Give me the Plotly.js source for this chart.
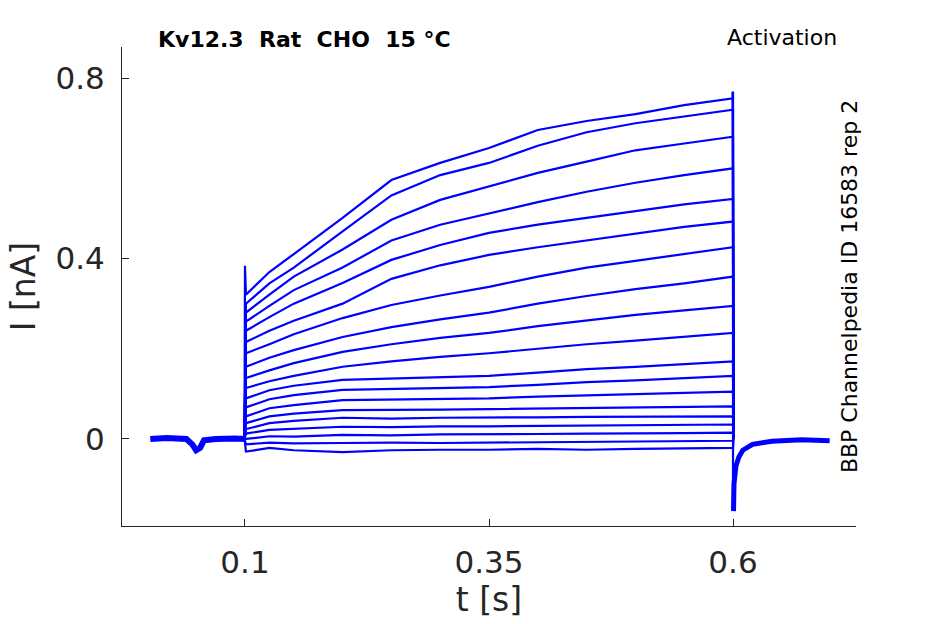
<!DOCTYPE html>
<html>
<head>
<meta charset="utf-8">
<script src="https://cdn.plot.ly/plotly-3.0.1.min.js"></script>
<style>html,body{margin:0;padding:0;background:#fff;}#plot{width:945px;height:624px;}</style>
</head>
<body>
<div id="plot"></div>
<script>
// Time points (s) of the readings during the voltage step
const stepT = [0.101, 0.125, 0.15, 0.2, 0.25, 0.3, 0.35, 0.4, 0.45, 0.5, 0.55, 0.6];

// Current readings (nA), one array per sweep, bottom to top
const sweep01 = [-0.028, -0.020, -0.025, -0.029, -0.025, -0.024, -0.024, -0.022, -0.024, -0.022, -0.021, -0.020];
const sweep02 = [-0.012, -0.008, -0.010, -0.009, -0.008, -0.009, -0.008, -0.007, -0.006, -0.006, -0.005, -0.004];
const sweep03 = [0.000, 0.006, 0.005, 0.009, 0.008, 0.010, 0.010, 0.011, 0.012, 0.012, 0.013, 0.014];
const sweep04 = [0.012, 0.020, 0.022, 0.027, 0.026, 0.028, 0.028, 0.029, 0.030, 0.031, 0.031, 0.032];
const sweep05 = [0.022, 0.035, 0.040, 0.047, 0.045, 0.047, 0.047, 0.048, 0.049, 0.049, 0.050, 0.050];
const sweep06 = [0.035, 0.050, 0.056, 0.064, 0.064, 0.065, 0.066, 0.067, 0.068, 0.070, 0.071, 0.072];
const sweep07 = [0.050, 0.068, 0.075, 0.086, 0.087, 0.089, 0.090, 0.094, 0.097, 0.100, 0.102, 0.105];
const sweep08 = [0.070, 0.088, 0.097, 0.109, 0.111, 0.113, 0.115, 0.120, 0.126, 0.130, 0.135, 0.140];
const sweep09 = [0.090, 0.108, 0.118, 0.131, 0.134, 0.137, 0.140, 0.147, 0.155, 0.160, 0.166, 0.172];
const sweep10 = [0.113, 0.128, 0.140, 0.160, 0.172, 0.182, 0.190, 0.200, 0.210, 0.218, 0.226, 0.235];
const sweep11 = [0.135, 0.152, 0.168, 0.193, 0.210, 0.224, 0.235, 0.250, 0.263, 0.275, 0.285, 0.295];
const sweep12 = [0.160, 0.180, 0.197, 0.226, 0.248, 0.265, 0.280, 0.300, 0.317, 0.332, 0.345, 0.360];
const sweep13 = [0.190, 0.210, 0.232, 0.268, 0.297, 0.318, 0.337, 0.360, 0.380, 0.395, 0.410, 0.425];
const sweep14 = [0.215, 0.240, 0.262, 0.300, 0.355, 0.385, 0.408, 0.425, 0.440, 0.455, 0.470, 0.482];
const sweep15 = [0.240, 0.270, 0.300, 0.346, 0.397, 0.430, 0.457, 0.475, 0.490, 0.505, 0.520, 0.532];
const sweep16 = [0.260, 0.295, 0.330, 0.380, 0.440, 0.475, 0.500, 0.525, 0.548, 0.568, 0.585, 0.600];
const sweep17 = [0.280, 0.320, 0.360, 0.420, 0.486, 0.530, 0.560, 0.590, 0.615, 0.640, 0.655, 0.670];
const sweep18 = [0.300, 0.345, 0.380, 0.460, 0.540, 0.585, 0.612, 0.650, 0.680, 0.700, 0.715, 0.730];
const sweep19 = [0.320, 0.370, 0.410, 0.490, 0.574, 0.612, 0.645, 0.685, 0.705, 0.720, 0.740, 0.755];

// Holding current before the step and after it
const preT = [0.003, 0.02, 0.04, 0.046, 0.05, 0.054, 0.058, 0.07, 0.09, 0.0995];
const preI = [0.000, 0.002, 0.000, -0.012, -0.025, -0.020, -0.003, 0.000, 0.001, 0.000];
const postT = [0.6005, 0.601, 0.603, 0.606, 0.61, 0.62, 0.64, 0.67, 0.699];
const postI = [-0.160, -0.100, -0.060, -0.040, -0.025, -0.012, -0.005, -0.002, -0.004];

// Capacitive spike at step onset and peak at step end (top sweep)
const onsetSpikeT = [0.1];
const onsetSpikeI = [0.384];
const endPeakT = [0.5995];
const endPeakI = [0.770];

const sweeps = [sweep01, sweep02, sweep03, sweep04, sweep05, sweep06, sweep07, sweep08, sweep09, sweep10,
                sweep11, sweep12, sweep13, sweep14, sweep15, sweep16, sweep17, sweep18, sweep19];

const blue = '#0000ff';
const traces = [];
sweeps.forEach((vals, k) => {
  const top = (k === sweeps.length - 1);
  const x = [0.0995].concat(top ? onsetSpikeT : [], stepT, top ? endPeakT : [], [0.6005]);
  const y = [0].concat(top ? onsetSpikeI : [], vals, top ? endPeakI : [], [0]);
  traces.push({x: x, y: y, type: 'scatter', mode: 'lines', line: {color: blue, width: 2.2}, hoverinfo: 'skip', showlegend: false});
});
traces.push({x: preT, y: preI, type: 'scatter', mode: 'lines', line: {color: blue, width: 6}, showlegend: false});
traces.push({x: postT, y: postI, type: 'scatter', mode: 'lines', line: {color: blue, width: 5}, showlegend: false});
traces.push({x: [0.6, 0.6], y: [endPeakI[0], postI[0]], type: 'scatter', mode: 'lines', line: {color: blue, width: 2.2}, showlegend: false});

const xTicks = [0.1, 0.35, 0.6];
const xTickText = ['0.1', '0.35', '0.6'];
const yTicks = [0, 0.4, 0.8];
const yTickText = ['0', '0.4', '0.8'];

const axisColor = '#262626';
const font = 'DejaVu Sans, sans-serif';
const nb = '\u00a0\u00a0';

const layout = {
  width: 945, height: 624,
  margin: {l: 122, r: 89, t: 47, b: 98},
  paper_bgcolor: '#fff', plot_bgcolor: '#fff',
  showlegend: false,
  font: {family: font, color: axisColor},
  xaxis: {
    range: [-0.026, 0.726], tickvals: xTicks, ticktext: xTickText,
    ticks: 'inside', ticklen: 7, tickcolor: axisColor, tickwidth: 1,
    ticklabelstandoff: 9,
    showline: true, linecolor: axisColor, linewidth: 1, showgrid: false, zeroline: false,
    tickfont: {size: 31, family: font, color: axisColor},
    title: {text: 't [s]', font: {size: 33, family: font, color: axisColor}, standoff: 7}
  },
  yaxis: {
    range: [-0.193, 0.869], tickvals: yTicks, ticktext: yTickText,
    ticks: 'inside', ticklen: 7, tickcolor: axisColor, tickwidth: 1,
    ticklabelstandoff: 10,
    showline: true, linecolor: axisColor, linewidth: 1, showgrid: false, zeroline: false,
    tickfont: {size: 31, family: font, color: axisColor},
    title: {text: 'I [nA]', font: {size: 33, family: font, color: axisColor}, standoff: 9}
  },
  annotations: [
    {text: '<b>Kv12.3' + nb + 'Rat' + nb + 'CHO' + nb + '15 °C</b>', xref: 'paper', yref: 'paper', x: 0.249, y: 1.015,
     xanchor: 'center', yanchor: 'middle', showarrow: false, font: {size: 22, family: font, color: '#000'}},
    {text: 'Activation', xref: 'paper', yref: 'paper', x: 0.899, y: 1.019,
     xanchor: 'center', yanchor: 'middle', showarrow: false, font: {size: 22, family: font, color: '#000'}},
    {text: 'BBP Channelpedia ID 16583 rep 2', xref: 'paper', yref: 'paper', x: 0.992, y: 0.499,
     xanchor: 'center', yanchor: 'middle', textangle: -90, showarrow: false, font: {size: 22, family: font, color: '#000'}}
  ]
};

Plotly.newPlot('plot', traces, layout, {displayModeBar: false, staticPlot: true});
</script>
</body>
</html>
